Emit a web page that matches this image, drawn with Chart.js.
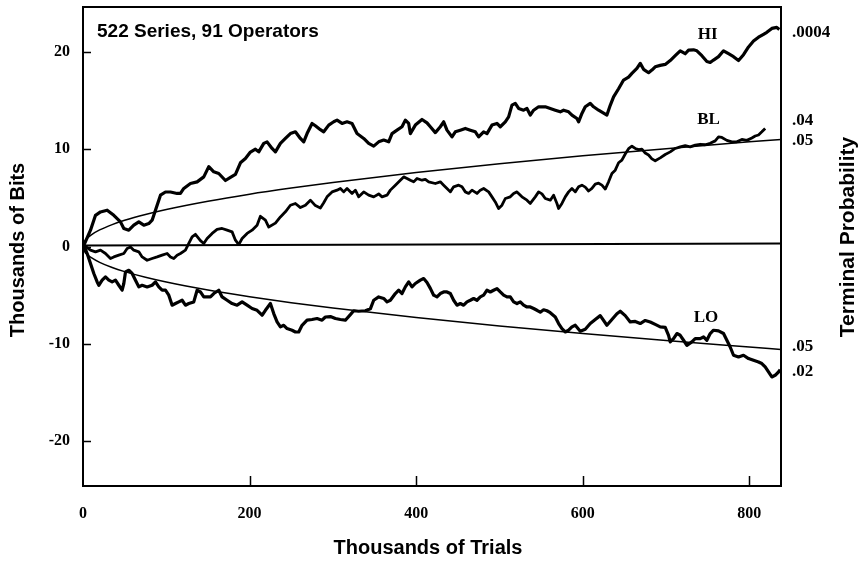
<!DOCTYPE html>
<html>
<head>
<meta charset="utf-8">
<script src="https://cdn.jsdelivr.net/npm/chart.js@4.4.0/dist/chart.umd.min.js"></script>
<style>
  body { margin: 0; background: #fff; }
  #chart { display: block; }
</style>
</head>
<body>
<canvas id="chart" width="865" height="562"></canvas>
<script>
// cumulative deviation, thousands of bits
var hiX = [0,1,9,15,21,29,37,45,49,55,61,67,73,79,83,87,93,99,105,113,117,121,129,137,145,151,157,163,171,177,183,189,195,201,207,211,217,221,227,231,237,243,249,255,261,265,269,275,279,285,289,295,301,305,311,317,323,329,337,343,349,355,361,367,371,377,383,387,391,393,399,407,413,417,423,429,433,437,443,447,453,459,465,471,475,481,485,491,497,501,507,511,515,519,523,529,533,537,541,547,555,561,567,573,577,583,587,593,595,599,603,609,613,619,625,629,633,637,643,649,655,659,665,669,673,679,683,687,693,699,705,711,717,723,727,733,737,743,749,753,757,763,769,775,781,787,793,799,805,811,817,821,827,833,836];
var hiY = [0,0.13,1.68,3.2,3.55,3.73,3.2,2.53,1.85,1.68,2.19,2.53,2.19,2.36,2.7,3.73,5.27,5.6,5.6,5.45,5.45,5.96,6.47,6.64,7.15,8.2,7.67,7.5,6.78,7.1,7.4,8.6,9.04,9.7,10.0,9.72,10.59,10.75,10.07,9.72,10.59,11.1,11.6,11.78,11.1,10.75,11.6,12.64,12.4,12.0,11.78,12.47,12.81,12.98,12.64,12.81,12.64,11.6,11.1,10.59,10.31,10.75,10.93,10.75,11.6,11.95,12.3,12.98,12.64,11.6,12.47,13.05,12.7,12.3,11.7,12.3,12.81,11.95,11.26,11.78,11.95,12.13,11.95,11.78,11.26,11.78,11.6,12.47,12.64,12.3,12.81,13.32,14.52,14.7,14.18,14.0,14.18,13.5,14.0,14.35,14.35,14.18,14.0,13.83,14.0,13.83,13.5,13.15,12.81,13.67,14.35,14.7,14.35,14.0,13.7,13.5,14.5,15.37,16.2,17.1,17.4,17.78,18.29,18.81,18.2,17.85,18.12,18.46,18.6,18.7,19.1,19.6,20.1,19.8,20.17,20.2,20.1,19.6,19.0,18.9,19.15,19.5,20.1,19.8,19.5,19.1,19.7,20.5,21.1,21.5,21.8,22.0,22.4,22.5,22.3];

var blX = [0,1,9,15,21,27,33,37,43,49,53,57,61,67,71,77,83,89,95,101,105,109,113,117,123,127,131,135,141,145,149,155,161,167,173,179,183,187,191,197,203,209,213,219,223,231,237,243,249,255,261,267,273,279,285,289,293,299,305,309,313,317,323,327,331,337,343,349,355,359,365,369,375,381,385,389,393,397,401,407,411,415,423,429,433,437,441,445,451,455,459,463,467,473,477,481,487,491,495,499,503,507,513,517,521,527,533,537,543,547,551,555,561,565,569,571,575,579,583,587,591,595,599,603,607,611,615,619,623,627,631,635,639,643,647,651,655,659,663,667,671,675,679,683,687,693,699,705,711,717,723,729,735,741,747,753,759,763,767,773,779,785,791,797,803,807,811,815,819];
var blY = [0,0.13,-0.38,-0.55,-0.38,-0.72,-1.23,-1.07,-0.89,-0.72,-0.21,-0.04,-0.38,-0.55,-1.07,-1.41,-1.23,-1.07,-0.89,-0.72,-1.07,-1.23,-0.89,-0.72,-0.38,0.31,0.99,1.25,0.6,0.31,0.82,1.34,1.75,1.85,1.68,1.5,0.65,0.2,0.82,1.34,1.68,2.19,3.1,2.7,2.0,2.4,3.04,3.56,4.24,4.42,4.0,4.24,4.76,4.2,3.95,4.5,5.1,5.61,5.79,5.96,5.61,5.96,5.45,5.79,5.1,5.61,5.27,5.1,5.4,5.1,5.27,5.79,6.3,6.81,7.15,6.99,6.81,6.64,6.99,6.81,6.9,6.64,6.47,6.64,6.3,5.96,5.61,6.13,6.3,6.13,5.61,5.45,5.79,5.45,5.79,5.96,5.61,5.1,4.58,3.9,4.24,4.93,5.1,5.45,5.61,5.1,4.76,4.42,5.1,5.61,5.4,4.93,4.76,5.27,4.42,3.9,4.42,5.1,5.61,5.96,5.61,6.13,6.3,6.1,5.7,5.96,6.4,6.5,6.3,5.9,6.64,7.5,7.84,8.6,8.87,9.5,10.05,10.3,10.07,9.95,10.0,9.6,9.4,9.0,8.8,9.1,9.45,9.72,10.07,10.24,10.35,10.24,10.41,10.5,10.45,10.6,10.85,11.26,11.2,10.9,10.75,10.75,11.0,10.9,11.15,11.35,11.45,11.78,12.13];

var loX = [0,1,5,9,13,17,19,23,27,31,35,39,43,47,49,51,55,59,63,67,71,77,83,87,91,95,99,103,107,111,115,119,123,127,133,137,141,145,153,157,163,167,173,179,185,191,197,203,209,215,219,225,229,233,237,241,245,251,255,259,263,269,275,281,287,291,297,303,309,315,321,325,331,339,345,349,355,361,365,369,375,379,383,387,391,395,399,405,409,413,417,421,425,429,433,437,441,445,449,453,457,461,465,469,473,477,481,485,489,493,497,501,505,509,513,517,521,525,529,533,537,541,545,549,553,557,561,567,571,575,579,583,587,591,597,603,609,615,621,629,635,641,645,651,657,663,669,675,681,687,693,699,703,705,709,713,717,721,725,731,735,741,745,749,753,757,763,769,773,777,781,787,793,799,805,811,815,819,823,827,831,835,837];
var loY = [0,0.13,-0.72,-1.75,-2.77,-3.64,-3.98,-3.46,-3.12,-3.46,-3.64,-3.46,-3.98,-4.49,-3.8,-2.61,-2.44,-2.77,-3.46,-4.15,-3.98,-4.15,-3.98,-3.64,-4.15,-4.49,-4.49,-5.0,-6.03,-5.86,-5.69,-5.52,-6.03,-5.86,-5.69,-4.49,-4.67,-5.18,-5.18,-4.83,-4.49,-5.18,-5.52,-5.86,-6.03,-5.69,-6.03,-6.37,-6.55,-7.06,-6.55,-5.86,-6.89,-7.75,-8.26,-8.09,-8.43,-8.6,-8.78,-8.78,-8.09,-7.57,-7.5,-7.4,-7.57,-7.24,-7.2,-7.4,-7.5,-7.57,-7.0,-6.6,-6.65,-6.6,-6.4,-5.52,-5.18,-5.34,-5.69,-5.52,-4.83,-4.49,-4.83,-4.15,-3.64,-4.15,-3.8,-3.46,-3.29,-3.7,-4.3,-5.0,-5.18,-4.83,-4.67,-4.67,-4.83,-5.52,-6.03,-5.86,-6.03,-5.69,-5.52,-5.34,-5.52,-5.18,-5.0,-4.49,-4.67,-4.49,-4.32,-4.67,-5.0,-5.18,-5.18,-5.69,-5.86,-5.69,-6.03,-6.21,-6.21,-6.37,-6.55,-6.75,-6.5,-6.6,-6.8,-7.24,-7.91,-8.43,-8.78,-8.6,-8.26,-8.09,-8.7,-8.5,-7.91,-7.5,-7.1,-8.09,-7.5,-6.9,-6.65,-7.1,-7.75,-7.7,-7.91,-7.6,-7.75,-8.0,-8.26,-8.3,-9.12,-9.8,-9.46,-8.94,-9.12,-9.63,-10.15,-9.8,-9.46,-9.46,-9.29,-9.63,-8.94,-8.6,-8.67,-8.94,-9.63,-10.32,-11.17,-11.35,-11.17,-11.51,-11.69,-11.86,-12.02,-12.37,-12.89,-13.4,-13.23,-12.89,-12.64];

// .05 envelopes and chance line
var envX = [0,2,5,10,20,35,50,75,100,150,200,250,300,400,500,600,700,800,838];
var envUp = [0,0.54,0.85,1.2,1.7,2.25,2.69,3.29,3.8,4.65,5.37,6.0,6.58,7.6,8.5,9.31,10.05,10.75,11.0];
var envLo = [0,-0.52,-0.82,-1.15,-1.63,-2.16,-2.58,-3.16,-3.65,-4.47,-5.16,-5.77,-6.32,-7.3,-8.16,-8.94,-9.66,-10.32,-10.57];
var meanX = [0,838];
var meanY = [0.1,0.3];

var xTicks = [0,200,400,600,800];
var yTicks = [-20,-10,0,10,20];

var seriesNames = ["HI", "BL", "LO"];
var probLabels = [".0004", ".04", ".05", ".05", ".02"];
var probValues = [22.0, 12.9, 10.9, -10.25, -12.8];

function toPoints(xs, ys) {
    var pts = [];
    for (let i = 0; i < xs.length; i++) {
        pts.push({x: xs[i], y: ys[i]});
    }
    return pts;
}

var serif = "'Liberation Serif', 'DejaVu Serif', serif";
var sans = "'Liberation Sans', Arial, sans-serif";

function walk(label, xs, ys, w) {
    return {label: label, data: toPoints(xs, ys), borderColor: "#000", borderWidth: w,
        pointRadius: 0, fill: false, tension: 0, borderJoinStyle: "round"};
}
function thin(label, xs, ys, w) {
    return {label: label, data: toPoints(xs, ys), borderColor: "#000", borderWidth: w,
        pointRadius: 0, fill: false, cubicInterpolationMode: "monotone"};
}

// frame, inward ticks and all the free text
var overlay = {
    id: "overlay",
    afterDraw: function(chart) {
        var ctx = chart.ctx;
        var a = chart.chartArea;
        var xs = chart.scales.x;
        var ys = chart.scales.y;
        ctx.save();
        ctx.strokeStyle = "#000";
        ctx.lineWidth = 2;
        ctx.strokeRect(a.left, a.top, a.right - a.left, a.bottom - a.top);

        ctx.lineWidth = 1.5;
        ctx.beginPath();
        xTicks.forEach(function(v) {
            if (v === 0) return;
            var px = Math.round(xs.getPixelForValue(v)) + 0.5;
            ctx.moveTo(px, a.bottom);
            ctx.lineTo(px, a.bottom - 10);
        });
        yTicks.forEach(function(v) {
            var py = Math.round(ys.getPixelForValue(v)) + 0.5;
            ctx.moveTo(a.left, py);
            ctx.lineTo(a.left + 8, py);
        });
        ctx.stroke();

        ctx.fillStyle = "#000";
        ctx.textBaseline = "middle";

        // series title
        ctx.font = "bold 19px " + sans;
        ctx.textAlign = "left";
        ctx.fillText("522 Series, 91 Operators", 97, 32);

        // series names
        ctx.font = "bold 17px " + serif;
        ctx.textAlign = "center";
        ctx.fillText(seriesNames[0], xs.getPixelForValue(750), ys.getPixelForValue(21.8));
        ctx.fillText(seriesNames[1], xs.getPixelForValue(751), ys.getPixelForValue(13.0));
        ctx.fillText(seriesNames[2], xs.getPixelForValue(748), ys.getPixelForValue(-7.35));

        // terminal probabilities
        ctx.textAlign = "left";
        for (let i = 0; i < probLabels.length; i++) {
            ctx.fillText(probLabels[i], a.right + 11, ys.getPixelForValue(probValues[i]));
        }

        // axis titles
        ctx.font = "bold 20px " + sans;
        ctx.textAlign = "center";
        ctx.fillText("Thousands of Trials", (a.left + a.right) / 2 - 4, 548);

        ctx.save();
        ctx.translate(18, 250);
        ctx.rotate(-Math.PI / 2);
        ctx.fillText("Thousands of Bits", 0, 0);
        ctx.restore();

        ctx.font = "bold 21px " + sans;
        ctx.save();
        ctx.translate(848, 237);
        ctx.rotate(-Math.PI / 2);
        ctx.fillText("Terminal Probability", 0, 0);
        ctx.restore();

        ctx.restore();
    }
};

var tickFont = {family: serif, size: 16, weight: "bold"};

var chart = new Chart(document.getElementById("chart"), {
    type: "line",
    data: {
        datasets: [
            thin("mean", meanX, meanY, 2),
            thin("upper .05", envX, envUp, 1.5),
            thin("lower .05", envX, envLo, 1.5),
            walk("HI", hiX, hiY, 3.2),
            walk("BL", blX, blY, 2.8),
            walk("LO", loX, loY, 3.2)
        ]
    },
    options: {
        responsive: false,
        devicePixelRatio: 1,
        animation: false,
        layout: {padding: {top: 7, right: 84, bottom: 0, left: 0}},
        plugins: {
            legend: {display: false},
            tooltip: {enabled: false}
        },
        scales: {
            x: {
                type: "linear",
                min: 0,
                max: 838,
                afterFit: function(s) {
                    s.height = 76;
                    s.paddingLeft = 0;
                    s.paddingRight = 0;
                },
                afterBuildTicks: function(s) { s.ticks = xTicks.map(function(v) { return {value: v}; }); },
                grid: {display: false, drawTicks: false},
                border: {display: false},
                ticks: {padding: 18, color: "#000", font: tickFont, maxRotation: 0, autoSkip: false}
            },
            y: {
                type: "linear",
                min: -24.6,
                max: 24.6,
                afterFit: function(s) {
                    s.width = 83;
                    s.paddingTop = 0;
                    s.paddingBottom = 0;
                },
                afterBuildTicks: function(s) { s.ticks = yTicks.map(function(v) { return {value: v}; }); },
                grid: {display: false, drawTicks: false},
                border: {display: false},
                ticks: {padding: 13, color: "#000", font: tickFont}
            }
        }
    },
    plugins: [overlay]
});
</script>
</body>
</html>
